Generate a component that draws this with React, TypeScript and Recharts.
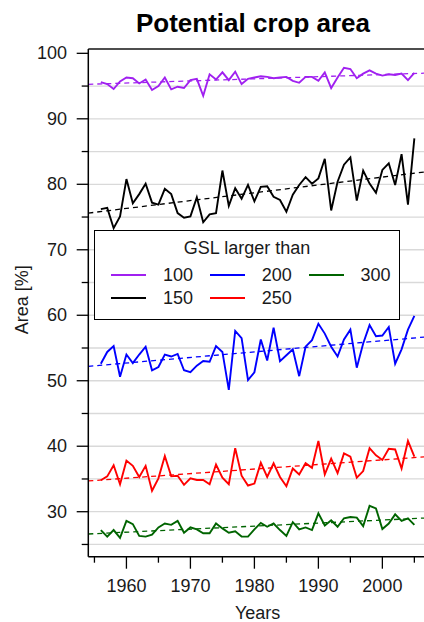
import React from 'react';
import { LineChart, Line, XAxis, YAxis, CartesianGrid, ReferenceLine, Legend } from 'recharts';

const YEARS = [
  1956, 1957, 1958, 1959, 1960, 1961, 1962, 1963, 1964, 1965,
  1966, 1967, 1968, 1969, 1970, 1971, 1972, 1973, 1974, 1975,
  1976, 1977, 1978, 1979, 1980, 1981, 1982, 1983, 1984, 1985,
  1986, 1987, 1988, 1989, 1990, 1991, 1992, 1993, 1994, 1995,
  1996, 1997, 1998, 1999, 2000, 2001, 2002, 2003, 2004, 2005,
];

const GSL100 = [
  95.6, 95.3, 94.55, 95.7, 96.3, 96.2, 95.4, 96.0, 94.4, 95.0,
  96.3, 94.5, 94.9, 94.7, 95.9, 96.1, 93.5, 96.8, 96.0, 97.1,
  95.9, 97.2, 95.3, 96.1, 96.3, 96.5, 96.4, 96.2, 96.3, 96.4,
  95.8, 95.5, 96.4, 96.4, 95.8, 97.1, 94.7, 96.3, 97.8, 97.6,
  96.2, 96.9, 97.4, 96.9, 96.6, 96.8, 96.7, 96.9, 95.9, 97.0,
];

const GSL150 = [
  76.2, 76.4, 73.3, 75.1, 80.8, 77.1, 78.5, 80.1, 77.2, 76.9,
  79.3, 78.5, 75.6, 74.9, 75.1, 78.0, 74.2, 75.4, 75.6, 82.1,
  76.7, 79.4, 77.8, 79.9, 77.4, 79.6, 79.7, 78.1, 77.6, 75.8,
  78.4, 79.9, 81.1, 80.1, 80.9, 83.9, 76.0, 80.4, 83.0, 84.1,
  77.5, 82.1, 80.1, 78.7, 82.2, 83.2, 79.9, 84.6, 76.9, 87.0,
];

const GSL200 = [
  52.6, 54.4, 55.3, 50.6, 54.0, 52.7, 54.0, 55.2, 51.6, 52.1,
  54.0, 53.7, 54.1, 51.6, 51.3, 52.3, 53.0, 52.9, 55.3, 54.4,
  48.6, 57.6, 56.5, 50.1, 51.3, 56.3, 53.1, 58.1, 53.0, 53.9,
  54.8, 50.7, 55.2, 56.2, 58.7, 57.2, 55.2, 53.7, 56.3, 57.8,
  52.0, 55.7, 58.5, 56.8, 56.9, 58.2, 52.6, 54.8, 57.8, 59.9,
];

const GSL250 = [
  34.8, 35.4, 37.1, 34.2, 37.8, 37.0, 35.3, 37.0, 33.2, 35.1,
  38.5, 35.4, 35.5, 34.1, 35.1, 34.85, 34.85, 34.2, 37.2, 35.2,
  34.2, 39.7, 35.5, 34.0, 34.3, 37.5, 35.3, 37.4, 35.3, 33.9,
  36.6, 35.7, 37.4, 36.7, 40.8, 35.7, 38.1, 35.9, 38.9, 38.4,
  35.2, 36.2, 39.7, 38.6, 37.9, 39.6, 39.5, 36.6, 40.8, 38.4,
];

const GSL300 = [
  27.2, 26.2, 27.2, 26.0, 28.6, 28.1, 26.3, 26.2, 26.5, 27.6,
  28.2, 28.0, 28.6, 26.8, 27.6, 27.3, 26.7, 26.7, 28.2, 27.45,
  26.8, 27.0, 26.2, 26.2, 27.3, 28.3, 27.7, 28.2, 27.2, 26.3,
  28.4, 27.3, 27.6, 27.2, 29.75, 27.9, 28.7, 27.7, 29.0, 29.2,
  29.1, 27.8, 30.9, 30.5, 27.35, 28.2, 29.6, 28.6, 29.0, 28.0,
];

// Trend line values at the left and right edges of the plot
const TREND_LEFT = [95.27, 75.6, 52.2, 34.7, 26.6];
const TREND_RIGHT = [96.98, 81.93, 56.7, 38.4, 29.05];

const SERIES_NAMES = ['100', '150', '200', '250', '300'];
const SERIES_KEYS = ['g100', 'g150', 'g200', 'g250', 'g300'];
const SERIES_COLORS = ['#A020F0', '#000000', '#0000FF', '#FF0000', '#006400'];
const SERIES_VALUES = [GSL100, GSL150, GSL200, GSL250, GSL300];

const X_DOMAIN = [1954.04, 2006.96];
const Y_DOMAIN = [23.13, 100.66];
const X_TICKS = [1955, 1960, 1965, 1970, 1975, 1980, 1985, 1990, 1995, 2000, 2005];
const Y_TICKS = [25, 30, 35, 40, 45, 50, 55, 60, 65, 70, 75, 80, 85, 90, 95, 100];
const GRID_VALUES = [25, 30, 35, 40, 45, 50, 55, 60, 65, 70, 75, 80, 85, 90, 95];

const TITLE = 'Potential crop area';
const X_LABEL = 'Years';
const Y_LABEL = 'Area [%]';
const LEGEND_TITLE = 'GSL larger than';

const FONT = '"Liberation Sans", Arial, Helvetica, sans-serif';
const TEXT_COLOR = '#1a1a1a';

const data = YEARS.map((year, i) => {
  const row: Record<string, number> = { year };
  SERIES_KEYS.forEach((k, s) => {
    row[k] = SERIES_VALUES[s][i];
  });
  return row;
});

const XTick = (props: any) => {
  const { x, y, payload } = props;
  const major = payload.value % 10 === 0;
  return (
    <g>
      <line x1={x} x2={x} y1={y} y2={y + (major ? 12 : 6)} stroke="#000" strokeWidth={1.3} />
      {major && (
        <text x={x} y={y + 29.5} textAnchor="middle" dominantBaseline="central" fontSize={18} fontFamily={FONT} fill={TEXT_COLOR}>
          {payload.value}
        </text>
      )}
    </g>
  );
};

const YTick = (props: any) => {
  const { x, y, payload } = props;
  const major = payload.value % 10 === 0;
  return (
    <g>
      <line x1={x - (major ? 11.6 : 6.6)} x2={x} y1={y} y2={y} stroke="#000" strokeWidth={1.3} />
      {major && (
        <text x={x - 21.3} y={y} textAnchor="end" dominantBaseline="central" fontSize={18} fontFamily={FONT} fill={TEXT_COLOR}>
          {payload.value}
        </text>
      )}
    </g>
  );
};

const LegendBox = () => {
  const order = [0, 1, 2, 3, 4];
  return (
    <div
      style={{
        position: 'relative',
        width: 306,
        height: 90,
        boxSizing: 'border-box',
        border: '1.3px solid #000',
        background: '#fff',
        fontFamily: FONT,
        color: TEXT_COLOR,
        fontSize: 18,
      }}
    >
      <div style={{ position: 'absolute', left: 0, right: 0, top: 16.7 - 11, textAlign: 'center', lineHeight: '22px' }}>
        {LEGEND_TITLE}
      </div>
      {order.map((s) => {
        const col = Math.floor(s / 2);
        const row = s % 2;
        const left = 16 + col * 98.8;
        const cy = 44 + row * 22.7;
        return (
          <div key={s}>
            <div
              style={{
                position: 'absolute',
                left,
                top: cy - 1,
                width: 35,
                height: 2,
                background: SERIES_COLORS[s],
              }}
            />
            <div style={{ position: 'absolute', left: left + 52, top: cy - 11, lineHeight: '22px' }}>
              {SERIES_NAMES[s]}
            </div>
          </div>
        );
      })}
    </div>
  );
};

const YLabel = (props: any) => {
  const vb = props.viewBox || {};
  const cx = 22;
  const cy = vb.y + vb.height / 2 - 3;
  return (
    <text
      x={cx}
      y={cy}
      transform={`rotate(-90, ${cx}, ${cy})`}
      textAnchor="middle"
      dominantBaseline="central"
      fontSize={18}
      fontFamily={FONT}
      fill={TEXT_COLOR}
    >
      {Y_LABEL}
    </text>
  );
};

const XLabel = (props: any) => {
  const vb = props.viewBox || {};
  return (
    <text
      x={vb.x + vb.width / 2}
      y={vb.y + 56.5}
      textAnchor="middle"
      dominantBaseline="central"
      fontSize={18}
      fontFamily={FONT}
      fill={TEXT_COLOR}
    >
      {X_LABEL}
    </text>
  );
};

export default function App() {
  return (
    <div
      style={{
        position: 'fixed',
        left: 0,
        top: 0,
        width: 424,
        height: 622,
        overflow: 'hidden',
        background: '#fff',
      }}
    >
      <div
        style={{
          position: 'absolute',
          left: 0,
          width: 506,
          top: 23 - 16,
          textAlign: 'center',
          fontFamily: FONT,
          fontWeight: 'bold',
          fontSize: 26,
          lineHeight: '32px',
          color: '#000',
        }}
      >
        {TITLE}
      </div>
      <LineChart
        width={427}
        height={622}
        data={data}
        margin={{ top: 49, right: 0.1, bottom: 0, left: 0 }}
        style={{ position: 'absolute', left: 0, top: 0 }}
      >
        <CartesianGrid
          vertical={false}
          stroke="#d9d9d9"
          strokeWidth={1.3}
          horizontalValues={GRID_VALUES}
        />
        <XAxis
          type="number"
          dataKey="year"
          domain={X_DOMAIN}
          ticks={X_TICKS}
          allowDataOverflow
          interval={0}
          height={65.3}
          tickSize={0}
          tickMargin={0}
          tick={<XTick />}
          axisLine={{ stroke: '#000', strokeWidth: 1.5 }}
          tickLine={false}
          label={<XLabel />}
        />
        <YAxis
          type="number"
          domain={Y_DOMAIN}
          ticks={Y_TICKS}
          allowDataOverflow
          interval={0}
          width={88.3}
          tickSize={0}
          tickMargin={0}
          tick={<YTick />}
          axisLine={{ stroke: '#000', strokeWidth: 1.5 }}
          tickLine={false}
          label={<YLabel />}
        />
        <ReferenceLine y={Y_DOMAIN[1]} stroke="#4d4d4d" strokeWidth={2.2} ifOverflow="visible" />
        {SERIES_KEYS.map((k, s) => (
          <Line
            key={k}
            type="linear"
            dataKey={k}
            name={SERIES_NAMES[s]}
            stroke={SERIES_COLORS[s]}
            strokeWidth={1.9}
            dot={false}
            activeDot={false}
            isAnimationActive={false}
          />
        ))}
        {SERIES_KEYS.map((k, s) => (
          <ReferenceLine
            key={`trend-${k}`}
            segment={[
              { x: X_DOMAIN[0], y: TREND_LEFT[s] },
              { x: X_DOMAIN[1], y: TREND_RIGHT[s] },
            ]}
            stroke={SERIES_COLORS[s]}
            strokeWidth={1.3}
            strokeDasharray="5 4"
            ifOverflow="visible"
          />
        ))}
        <Legend
          layout="vertical"
          align="center"
          verticalAlign="middle"
          wrapperStyle={{ left: 94, top: 230, width: 306, height: 90 }}
          content={() => <LegendBox />}
        />
      </LineChart>
    </div>
  );
}
